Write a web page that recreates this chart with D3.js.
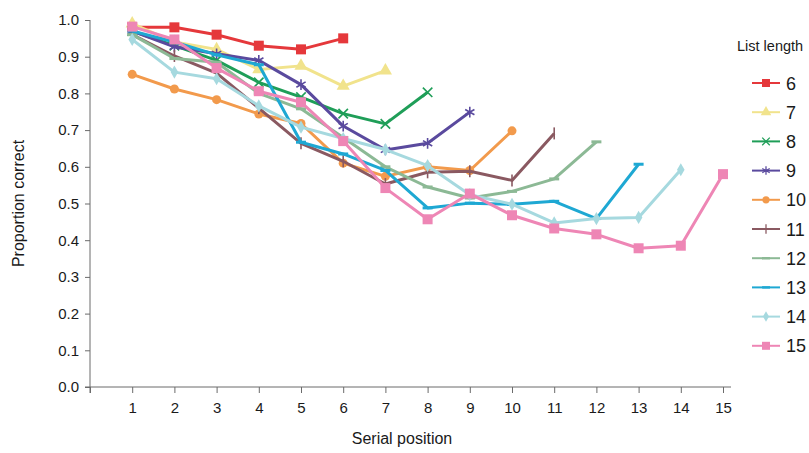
<!DOCTYPE html>
<html>
<head>
<meta charset="utf-8">
<script src="https://cdn.jsdelivr.net/npm/d3@7"></script>
<style>
  body { margin: 0; background: #fff; }
  text { font-family: "Liberation Sans", Arial, sans-serif; fill: #1a1a1a; }
</style>
</head>
<body>
<script>
// list lengths (one series per length)
var listLengths = [6, 7, 8, 9, 10, 11, 12, 13, 14, 15];
var seriesColors = ["#e5383b", "#f1e38c", "#1f9e58", "#5a4a9e", "#f29a4c",
                    "#8a5961", "#8cb995", "#1ea8d3", "#a6d9df", "#ee86b5"];
var markerTypes = ["square", "triangle", "times", "asterisk", "circle",
                   "plus", "dash", "dash", "diamond", "square"];

// proportion correct by serial position (index 0 = position 1)
var len6  = [0.98, 0.98, 0.96, 0.93, 0.92, 0.95];
var len7  = [0.99, 0.94, 0.92, 0.865, 0.875, 0.82, 0.862];
var len8  = [0.97, 0.93, 0.89, 0.83, 0.79, 0.745, 0.717, 0.803];
var len9  = [0.97, 0.927, 0.908, 0.89, 0.824, 0.711, 0.646, 0.664, 0.749];
var len10 = [0.852, 0.812, 0.783, 0.744, 0.718, 0.61, 0.574, 0.6, 0.59, 0.698];
var len11 = [0.96, 0.902, 0.855, 0.76, 0.664, 0.615, 0.553, 0.585, 0.588, 0.563, 0.691];
var len12 = [0.96, 0.895, 0.885, 0.8, 0.758, 0.68, 0.6, 0.545, 0.515, 0.533, 0.567, 0.668];
var len13 = [0.97, 0.94, 0.905, 0.878, 0.667, 0.635, 0.59, 0.488, 0.501, 0.498, 0.506, 0.459, 0.607];
var len14 = [0.947, 0.858, 0.84, 0.766, 0.708, 0.677, 0.647, 0.603, 0.524, 0.498, 0.447, 0.459, 0.462, 0.592];
var len15 = [0.982, 0.947, 0.869, 0.806, 0.776, 0.67, 0.542, 0.457, 0.527, 0.468, 0.432, 0.416, 0.378, 0.385, 0.58];
var allSeries = [len6, len7, len8, len9, len10, len11, len12, len13, len14, len15];

var xTicks = d3.range(0, 16);
var yTicks = d3.range(0, 11).map(function(i) { return i / 10; });

var width = 809, height = 453;

var svg = d3.select("body").append("svg")
  .attr("width", width)
  .attr("height", height);

var x = d3.scaleLinear().domain([0, 15]).range([90, 723]);
var y = d3.scaleLinear().domain([0, 1]).range([387, 20]);

var axisColor = "#6b6b6b";

// y axis
var yAxis = svg.append("g")
  .attr("transform", "translate(" + x(0) + ",0)")
  .call(d3.axisLeft(y).tickValues(yTicks).tickSize(5).tickPadding(6)
    .tickFormat(d3.format(".1f")));
yAxis.select(".domain").attr("d", "M0," + y(1) + "V" + (y(0) + 6));
yAxis.selectAll("path, line").attr("stroke", axisColor);
yAxis.selectAll("text").style("font-size", "15px");

// x axis
var xAxis = svg.append("g")
  .attr("transform", "translate(0," + y(0) + ")")
  .call(d3.axisBottom(x).tickValues(xTicks).tickSize(6).tickPadding(9)
    .tickFormat(function(d) { return d === 0 ? "" : d; }));
xAxis.select(".domain").attr("d", "M" + (x(0) - 5) + ",0H" + (x(15) + 8));
xAxis.selectAll("path, line").attr("stroke", axisColor);
xAxis.selectAll("text").style("font-size", "15px");

// axis titles
svg.append("text")
  .attr("x", 402).attr("y", 444)
  .attr("text-anchor", "middle")
  .style("font-size", "16px")
  .text("Serial position");

svg.append("text")
  .attr("transform", "translate(24," + y(0.5) + ") rotate(-90)")
  .attr("text-anchor", "middle")
  .style("font-size", "16px")
  .text("Proportion correct");

function drawMarker(g, type, color) {
  var sym;
  if (type === "square") {
    g.append("rect").attr("x", -5).attr("y", -5).attr("width", 10).attr("height", 10)
      .attr("fill", color);
  } else if (type === "triangle") {
    sym = d3.symbol().type(d3.symbolTriangle).size(75);
    g.append("path").attr("d", sym()).attr("fill", color);
  } else if (type === "circle") {
    g.append("circle").attr("r", 4.5).attr("fill", color);
  } else if (type === "diamond") {
    sym = d3.symbol().type(d3.symbolDiamond).size(50);
    g.append("path").attr("d", sym()).attr("fill", color);
  } else if (type === "times") {
    sym = d3.symbol().type(d3.symbolTimes).size(60);
    g.append("path").attr("d", sym()).attr("fill", "none").attr("stroke", color).attr("stroke-width", 1.6);
  } else if (type === "asterisk") {
    sym = d3.symbol().type(d3.symbolAsterisk).size(80);
    g.append("path").attr("d", sym()).attr("fill", "none").attr("stroke", color).attr("stroke-width", 1.6);
  } else if (type === "plus") {
    g.append("line").attr("x1", 0).attr("x2", 0).attr("y1", -6).attr("y2", 6)
      .attr("stroke", color).attr("stroke-width", 1.6);
  } else if (type === "dash") {
    g.append("line").attr("x1", -5).attr("x2", 5).attr("y1", 0).attr("y2", 0)
      .attr("stroke", color).attr("stroke-width", 3);
  }
}

var line = d3.line()
  .x(function(d, i) { return x(i + 1); })
  .y(function(d) { return y(d); });

var plot = svg.append("g");

allSeries.forEach(function(vals, k) {
  var color = seriesColors[k];
  var g = plot.append("g").attr("class", "series");
  g.append("path")
    .datum(vals)
    .attr("d", line)
    .attr("fill", "none")
    .attr("stroke", color)
    .attr("stroke-width", 3)
    .attr("stroke-linejoin", "round");
  vals.forEach(function(v, i) {
    var m = g.append("g").attr("transform", "translate(" + x(i + 1) + "," + y(v) + ")");
    drawMarker(m, markerTypes[k], color);
  });
});

// legend
var legend = svg.append("g");
legend.append("text")
  .attr("x", 737).attr("y", 51)
  .style("font-size", "14.5px")
  .text("List length");

listLengths.forEach(function(len, k) {
  var ly = 83 + k * 29.2;
  var row = legend.append("g").attr("transform", "translate(0," + ly + ")");
  row.append("line")
    .attr("x1", 752).attr("x2", 780).attr("y1", 0).attr("y2", 0)
    .attr("stroke", seriesColors[k]).attr("stroke-width", 2);
  var m = row.append("g").attr("transform", "translate(766,0) scale(0.8)");
  drawMarker(m, markerTypes[k], seriesColors[k]);
  row.append("text")
    .attr("x", 786).attr("y", 6.5)
    .style("font-size", "18px")
    .text(len);
});
</script>
</body>
</html>
